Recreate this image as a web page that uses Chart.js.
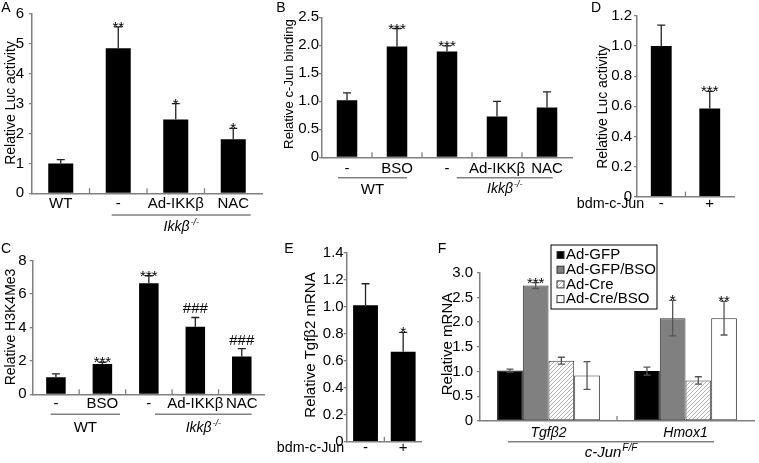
<!DOCTYPE html>
<html>
<head>
<meta charset="utf-8">
<script src="https://cdn.jsdelivr.net/npm/chart.js@4.4.1/dist/chart.umd.min.js"></script>
<style>
  html, body { margin: 0; padding: 0; background: #fff; }
  #wrap { position: relative; width: 759px; height: 463px; overflow: hidden; }
  canvas { position: absolute; left: 0; top: 0; }
</style>
</head>
<body>
<div id="wrap">
  <canvas id="cA" width="759" height="463"></canvas>
  <canvas id="cB" width="759" height="463"></canvas>
  <canvas id="cC" width="759" height="463"></canvas>
  <canvas id="cD" width="759" height="463"></canvas>
  <canvas id="cE" width="759" height="463"></canvas>
  <canvas id="cF" width="759" height="463"></canvas>
</div>
<script>
// ---- data ----

// A: relative Luc activity
const aCategories = ['WT', '-', 'Ad-IKK\u03b2', 'NAC'];
const aValues = [1.0, 4.85, 2.47, 1.81];
const aErrors = [0.13, 0.72, 0.53, 0.36];
const aMarks = ['', '**', '*', '*'];
const aTicks = [0, 1, 2, 3, 4, 5, 6];
const aTickLabels = ['0', '1', '2', '3', '4', '5', '6'];

// B: relative c-Jun binding
const bCategories = ['-', 'BSO', '-', 'Ad-IKK\u03b2', 'NAC'];
const bValues = [1.02, 1.98, 1.89, 0.73, 0.89];
const bErrors = [0.13, 0.32, 0.10, 0.27, 0.28];
const bMarks = ['', '***', '***', '', ''];
const bTicks = [0, 0.5, 1.0, 1.5, 2.0, 2.5];
const bTickLabels = ['0', '0.5', '1.0', '1.5', '2.0', '2.5'];

// C: relative H3K4Me3
const cCategories = ['-', 'BSO', '-', 'Ad-IKK\u03b2', 'NAC'];
const cValues = [1.02, 1.82, 6.65, 4.05, 2.26];
const cErrors = [0.20, 0.10, 0.45, 0.55, 0.47];
const cMarks = ['', '***', '***', '###', '###'];
const cTicks = [0, 1, 2, 3, 4, 5, 6, 7, 8];
const cTickLabels = ['0', '1', '2', '3', '4', '5', '6', '7', '8'];

// D: relative Luc activity, bdm-c-Jun
const dCategories = ['-', '+'];
const dValues = [1.0, 0.585];
const dErrors = [0.14, 0.115];
const dMarks = ['', '***'];
const dTicks = [0, 0.2, 0.4, 0.6, 0.8, 1.0, 1.2];
const dTickLabels = ['0', '0.2', '0.4', '0.6', '0.8', '1.0', '1.2'];

// E: relative Tgfb2 mRNA, bdm-c-Jun
const eCategories = ['-', '+'];
const eValues = [1.01, 0.667];
const eErrors = [0.16, 0.143];
const eMarks = ['', '*'];
const eTicks = [0, 0.2, 0.4, 0.6, 0.8, 1.0, 1.2, 1.4];
const eTickLabels = ['0', '0.2', '0.4', '0.6', '0.8', '1.0', '1.2', '1.4'];

// F: relative mRNA in c-Jun F/F cells
const fCategories = ['Tgf\u03b22', 'Hmox1'];
const fSeries = ['Ad-GFP', 'Ad-GFP/BSO', 'Ad-Cre', 'Ad-Cre/BSO'];
const fGfp = [1.02, 1.01];
const fGfpErr = [0.03, 0.08];
const fGfpBso = [2.74, 2.08];
const fGfpBsoErr = [0.06, 0.36];
const fCre = [1.22, 0.82];
const fCreErr = [0.07, 0.075];
const fCreBso = [0.92, 2.08];
const fCreBsoErr = [0.28, 0.34];
const fMarks = [['', ''], ['***', '*'], ['', ''], ['', '**']];
const fTicks = [0, 0.5, 1.0, 1.5, 2.0, 2.5, 3.0];
const fTickLabels = ['0', '0.5', '1.0', '1.5', '2.0', '2.5', '3.0'];

// ---- drawing ----
const AXIS = '#808080';
const FONT = '"Liberation Sans", Arial, sans-serif';
const W = 759, H = 463, YW = 30;
const LABEL = 15;   // tick and category label size

function hatchPattern() {
  const c = document.createElement('canvas');
  c.width = 4; c.height = 4;
  const g = c.getContext('2d');
  g.fillStyle = '#fff';
  g.fillRect(0, 0, 4, 4);
  g.strokeStyle = '#a0a0a0';
  g.lineWidth = 0.8;
  g.beginPath();
  g.moveTo(-1, 5); g.lineTo(5, -1);
  g.stroke();
  return g.createPattern(c, 'repeat');
}

// italic text with a small superscript, centred on cx
function italicSup(ctx, main, sup, cx, cy, size, supSize) {
  ctx.font = 'italic ' + size + 'px ' + FONT;
  const w1 = ctx.measureText(main).width;
  ctx.font = 'italic ' + supSize + 'px ' + FONT;
  const w2 = ctx.measureText(sup).width;
  const x = cx - (w1 + w2 + 1) / 2;
  ctx.textAlign = 'left';
  ctx.textBaseline = 'middle';
  ctx.font = 'italic ' + size + 'px ' + FONT;
  ctx.fillText(main, x, cy);
  ctx.font = 'italic ' + supSize + 'px ' + FONT;
  ctx.fillText(sup, x + w1 + 1, cy - 5);
}

function decor(p) {
  return {
    id: 'decor' + p.letter,
    afterDatasetsDraw(chart) {
      const ctx = chart.ctx, xs = chart.scales.x, ys = chart.scales.y;
      const bottom = chart.chartArea.bottom;
      ctx.save();

      // error bars and significance marks
      p.series.forEach((s, di) => {
        const meta = chart.getDatasetMeta(di);
        meta.data.forEach((bar, i) => {
          const v = s.values[i], e = s.errors[i];
          const top = ys.getPixelForValue(v + e);
          const low = p.twoSided ? ys.getPixelForValue(v - e) : ys.getPixelForValue(v);
          ctx.strokeStyle = p.errColor;
          ctx.lineWidth = 1.3;
          ctx.beginPath();
          ctx.moveTo(bar.x, low); ctx.lineTo(bar.x, top);
          ctx.moveTo(bar.x - p.cap, top); ctx.lineTo(bar.x + p.cap, top);
          if (p.twoSided) { ctx.moveTo(bar.x - p.cap, low); ctx.lineTo(bar.x + p.cap, low); }
          ctx.stroke();
          const m = s.marks[i];
          if (m) {
            ctx.fillStyle = '#000';
            ctx.textAlign = 'center';
            ctx.textBaseline = 'alphabetic';
            ctx.font = '15px ' + FONT;
            ctx.fillText(m, bar.x, m[0] === '#' ? top - 4 : top + 5);
          }
        });
      });

      // short inward ticks between categories
      ctx.strokeStyle = AXIS;
      ctx.lineWidth = 1.3;
      ctx.beginPath();
      for (let i = 1; i < p.categories.length; i++) {
        const x = (xs.getPixelForValue(i - 1) + xs.getPixelForValue(i)) / 2;
        ctx.moveTo(x, bottom); ctx.lineTo(x, bottom - 5);
      }
      ctx.stroke();

      // category labels
      ctx.fillStyle = '#000';
      ctx.textAlign = 'center';
      ctx.textBaseline = 'middle';
      ctx.font = (p.italicLabels ? 'italic 14px ' : LABEL + 'px ') + FONT;
      p.categories.forEach((c, i) => ctx.fillText(c, xs.getPixelForValue(i), p.labelY));

      if (p.rowTitle) {
        ctx.font = '14.3px ' + FONT;
        ctx.fillText(p.rowTitle.text, p.rowTitle.x, p.labelY);
      }

      // group brackets
      (p.groups || []).forEach(g => {
        ctx.strokeStyle = AXIS;
        ctx.lineWidth = 1.5;
        ctx.beginPath();
        ctx.moveTo(g.x0, g.lineY); ctx.lineTo(g.x1, g.lineY);
        ctx.stroke();
        ctx.fillStyle = '#000';
        const cx = (g.x0 + g.x1) / 2;
        if (g.sup) {
          italicSup(ctx, g.text, g.sup, cx, g.textY, g.size, g.supSize);
        } else {
          ctx.font = LABEL + 'px ' + FONT;
          ctx.textAlign = 'center';
          ctx.textBaseline = 'middle';
          ctx.fillText(g.text, cx, g.textY);
        }
      });

      // y title
      ctx.save();
      ctx.translate(p.yTitle.x, p.yTitle.y);
      ctx.rotate(-Math.PI / 2);
      ctx.font = p.yTitle.size + 'px ' + FONT;
      ctx.fillStyle = '#000';
      ctx.textAlign = 'center';
      ctx.textBaseline = 'middle';
      ctx.fillText(p.yTitle.text, 0, 0);
      ctx.restore();

      // panel letter
      ctx.font = '14px ' + FONT;
      ctx.fillStyle = '#000';
      ctx.textAlign = 'center';
      ctx.textBaseline = 'middle';
      ctx.fillText(p.letter, p.letterX, p.letterY);

      // legend box
      if (p.legend) {
        const L = p.legend;
        ctx.strokeStyle = '#000';
        ctx.lineWidth = 1;
        ctx.strokeRect(L.x, L.y, L.w, L.h);
        p.series.forEach((s, i) => {
          const y = L.y + 10 + i * 14.7;
          ctx.fillStyle = s.fill;
          ctx.fillRect(L.x + 6, y - 3.5, 7, 7);
          ctx.strokeStyle = '#333';
          ctx.strokeRect(L.x + 6, y - 3.5, 7, 7);
          ctx.fillStyle = '#000';
          ctx.font = '15px ' + FONT;
          ctx.textAlign = 'left';
          ctx.textBaseline = 'middle';
          ctx.fillText(s.label, L.x + 15, y);
        });
      }
      ctx.restore();
    }
  };
}

function makePanel(id, p) {
  const datasets = p.series.map(s => ({
    label: s.label,
    data: s.values,
    backgroundColor: s.fill,
    borderColor: s.stroke || s.fill,
    borderWidth: s.strokeWidth || 0,
    borderSkipped: false,
    barPercentage: p.barPct,
    categoryPercentage: p.catPct
  }));
  return new Chart(document.getElementById(id), {
    type: 'bar',
    data: { labels: p.categories, datasets },
    options: {
      responsive: false,
      animation: false,
      devicePixelRatio: 1,
      layout: { padding: { left: p.area.l - YW, right: W - p.area.r, top: p.area.t, bottom: H - p.area.b } },
      plugins: { legend: { display: false }, tooltip: { enabled: false } },
      scales: {
        x: {
          grid: { display: false },
          ticks: { display: false },
          border: { color: AXIS, width: 1.5 },
          afterFit: s => { s.height = 0; }
        },
        y: {
          min: p.yTicks[0],
          max: p.yTicks[p.yTicks.length - 1],
          afterBuildTicks: s => { s.ticks = p.yTicks.map(v => ({ value: v })); },
          afterFit: s => { s.width = YW; },
          grid: { drawOnChartArea: false, tickLength: 3, color: AXIS, lineWidth: 1.3 },
          border: { color: AXIS, width: 1.5 },
          ticks: {
            padding: p.tickPad,
            color: '#000',
            font: { family: FONT, size: LABEL },
            callback: (v, i) => p.yTickLabels[i]
          }
        }
      }
    },
    plugins: [decor(p)]
  });
}

const black = (values, errors, marks) => [{ label: '', values, errors, marks, fill: '#000' }];
const ikk = (x0, x1, lineY, textY) => ({ x0, x1, lineY, textY, text: 'Ikk\u03b2', sup: '-/-', size: 14, supSize: 9 });

makePanel('cA', {
  letter: 'A', letterX: 6, letterY: 8,
  area: { l: 32, r: 262, t: 13, b: 193.3 },
  categories: aCategories, series: black(aValues, aErrors, aMarks),
  yTicks: aTicks, yTickLabels: aTickLabels, tickPad: 5,
  barPct: 0.435, catPct: 1, cap: 4, errColor: '#222',
  labelY: 203.5,
  groups: [ikk(111.7, 250.7, 215, 227.5)],
  yTitle: { text: 'Relative Luc activity', x: 11.5, y: 103, size: 14 }
});

makePanel('cB', {
  letter: 'B', letterX: 281, letterY: 8,
  area: { l: 322, r: 572, t: 17.3, b: 157.3 },
  categories: bCategories, series: black(bValues, bErrors, bMarks),
  yTicks: bTicks, yTickLabels: bTickLabels, tickPad: 0,
  barPct: 0.41, catPct: 1, cap: 4, errColor: '#222',
  labelY: 168.5,
  groups: [
    { x0: 338, x1: 407, lineY: 177.7, text: 'WT', textY: 189.5 },
    ikk(456.7, 552.7, 177.7, 189.5)
  ],
  yTitle: { text: 'Relative c-Jun binding', x: 289, y: 84, size: 13.2 }
});

makePanel('cC', {
  letter: 'C', letterX: 6, letterY: 249,
  area: { l: 32.7, r: 265, t: 260.7, b: 394.3 },
  categories: cCategories, series: black(cValues, cErrors, cMarks),
  yTicks: cTicks, yTickLabels: cTickLabels, tickPad: 3,
  barPct: 0.42, catPct: 1, cap: 4, errColor: '#222',
  labelY: 403.5,
  groups: [
    { x0: 50.7, x1: 120, lineY: 414.3, text: 'WT', textY: 428 },
    ikk(155, 251.7, 414.3, 428)
  ],
  yTitle: { text: 'Relative H3K4Me3', x: 11, y: 327, size: 14 }
});

makePanel('cD', {
  letter: 'D', letterX: 596, letterY: 8,
  area: { l: 637, r: 734, t: 16, b: 196.7 },
  categories: dCategories, series: black(dValues, dErrors, dMarks),
  yTicks: dTicks, yTickLabels: dTickLabels, tickPad: 2,
  barPct: 0.43, catPct: 1, cap: 4, errColor: '#222',
  labelY: 204,
  rowTitle: { text: 'bdm-c-Jun', x: 610.5 },
  yTitle: { text: 'Relative Luc activity', x: 603.5, y: 107, size: 14 }
});

makePanel('cE', {
  letter: 'E', letterX: 289, letterY: 249.5,
  area: { l: 346.7, r: 422, t: 252.7, b: 441.7 },
  categories: eCategories, series: black(eValues, eErrors, eMarks),
  yTicks: eTicks, yTickLabels: eTickLabels, tickPad: 0,
  barPct: 0.66, catPct: 1, cap: 4, errColor: '#222',
  labelY: 448,
  rowTitle: { text: 'bdm-c-Jun', x: 310.5 },
  yTitle: { text: 'Relative Tgf\u03b22 mRNA', x: 311, y: 345, size: 15 }
});

makePanel('cF', {
  letter: 'F', letterX: 442, letterY: 249.5,
  area: { l: 480, r: 754, t: 272.7, b: 421 },
  categories: fCategories,
  series: [
    { label: fSeries[0], values: fGfp, errors: fGfpErr, marks: fMarks[0], fill: '#000', stroke: '#000', strokeWidth: 1 },
    { label: fSeries[1], values: fGfpBso, errors: fGfpBsoErr, marks: fMarks[1], fill: '#808080', stroke: '#333', strokeWidth: 1 },
    { label: fSeries[2], values: fCre, errors: fCreErr, marks: fMarks[2], fill: hatchPattern(), stroke: '#333', strokeWidth: 1 },
    { label: fSeries[3], values: fCreBso, errors: fCreBsoErr, marks: fMarks[3], fill: '#fff', stroke: '#333', strokeWidth: 1 }
  ],
  yTicks: fTicks, yTickLabels: fTickLabels, tickPad: 4,
  barPct: 1, catPct: 0.75, cap: 3.5, errColor: '#555', twoSided: true,
  italicLabels: true,
  labelY: 433,
  groups: [{ x0: 508, x1: 714, lineY: 441.7, text: 'c-Jun', sup: 'F/F', size: 15, supSize: 10, textY: 453 }],
  legend: { x: 551, y: 245, w: 106, h: 64 },
  yTitle: { text: 'Relative mRNA', x: 448, y: 344, size: 15 }
});
</script>
</body>
</html>
